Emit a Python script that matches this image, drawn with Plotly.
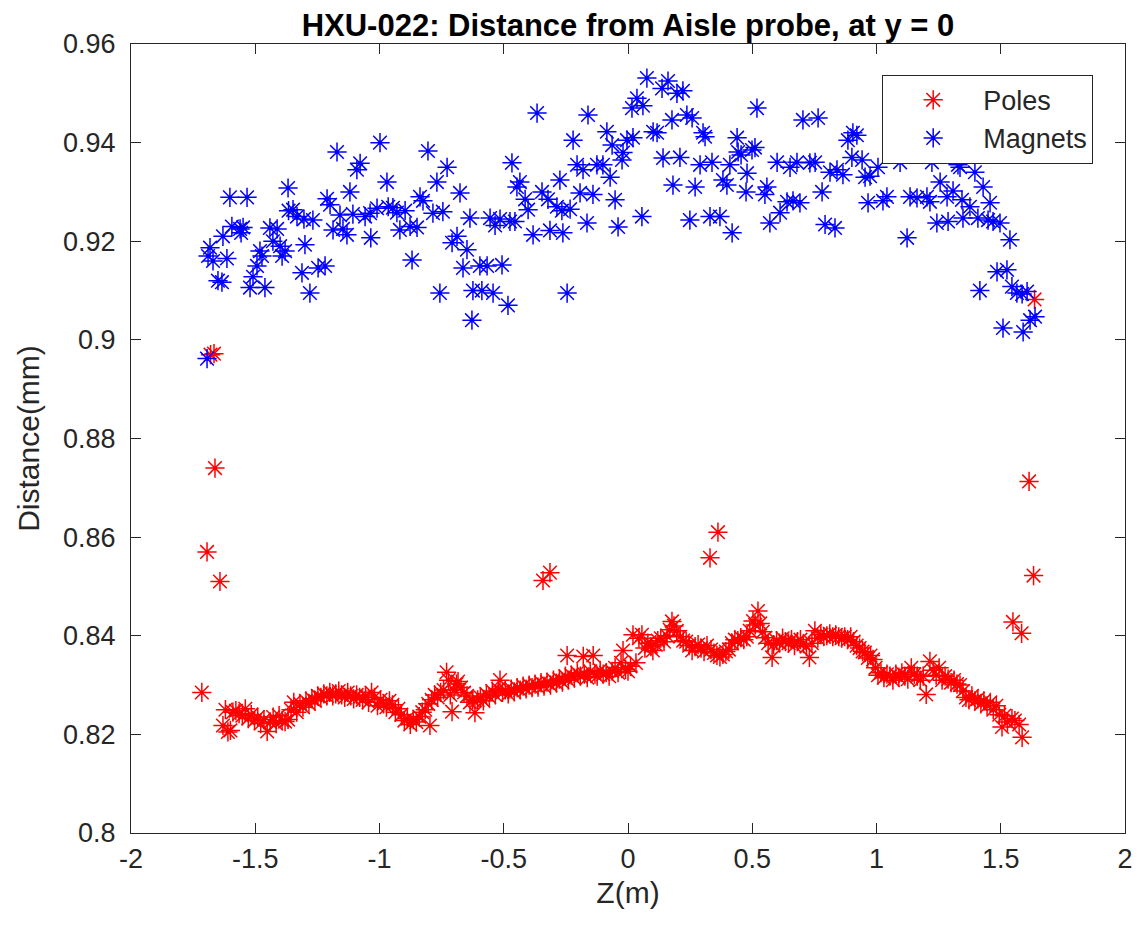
import plotly.graph_objects as go

# ---------------- Data ----------------
poles_z = [
    -1.715, -1.694, -1.680, -1.666, -1.662, -1.642,
    -1.630, -1.620, -1.610, -1.600, -1.590, -1.578, -1.565, -1.552, -1.540, -1.528,
    -1.516, -1.503, -1.490, -1.478, -1.465, -1.452, -1.440, -1.428, -1.416, -1.404,
    -1.392, -1.380, -1.368, -1.356, -1.345, -1.333, -1.320, -1.308, -1.296, -1.284,
    -1.272, -1.260, -1.248, -1.236, -1.224, -1.212, -1.200, -1.188, -1.176, -1.164,
    -1.152, -1.140, -1.128, -1.116, -1.104, -1.092, -1.080, -1.068, -1.056, -1.044,
    -1.032, -1.020, -1.008, -0.996, -0.984, -0.972, -0.960, -0.948, -0.936, -0.924,
    -0.912, -0.900, -0.888, -0.876, -0.864, -0.852, -0.840, -0.828, -0.816, -0.804,
    -0.797, -0.790, -0.778, -0.766, -0.754, -0.742, -0.730, -0.722, -0.715, -0.708,
    -0.700, -0.690, -0.684, -0.672, -0.660, -0.648, -0.636, -0.625, -0.616, -0.605,
    -0.594, -0.582, -0.570, -0.558, -0.546, -0.534, -0.522, -0.515, -0.505, -0.494,
    -0.482, -0.470, -0.458, -0.446, -0.434, -0.422, -0.410, -0.398, -0.386, -0.374,
    -0.362, -0.350, -0.342, -0.338, -0.326, -0.314, -0.312, -0.300, -0.288, -0.276,
    -0.264, -0.252, -0.245, -0.240, -0.228, -0.216, -0.204, -0.192, -0.180, -0.176,
    -0.164, -0.152, -0.140, -0.133, -0.124, -0.112, -0.100, -0.088, -0.076, -0.064,
    -0.052, -0.040, -0.028, -0.020, -0.010, 0.000, 0.010, 0.020, 0.032, 0.044,
    0.056, 0.068, 0.080, 0.092, 0.100, 0.112, 0.120, 0.132, 0.145, 0.157,
    0.168, 0.177, 0.185, 0.196, 0.210, 0.222, 0.234, 0.246, 0.258, 0.270,
    0.282, 0.294, 0.306, 0.318, 0.330, 0.334, 0.346, 0.358, 0.362, 0.370,
    0.382, 0.394, 0.406, 0.418, 0.430, 0.442, 0.454, 0.466, 0.478, 0.490,
    0.503, 0.512, 0.523, 0.532, 0.542, 0.552, 0.564, 0.580, 0.586, 0.598,
    0.610, 0.622, 0.634, 0.646, 0.658, 0.670, 0.682, 0.694, 0.706, 0.718,
    0.730, 0.740, 0.752, 0.764, 0.776, 0.788, 0.800, 0.812, 0.824, 0.836,
    0.848, 0.860, 0.872, 0.884, 0.896, 0.908, 0.920, 0.932, 0.944, 0.953,
    0.965, 0.976, 0.986, 0.996, 1.006, 1.018, 1.030, 1.042, 1.054, 1.066,
    1.078, 1.090, 1.102, 1.114, 1.126, 1.140, 1.152, 1.164, 1.176, 1.188,
    1.200, 1.215, 1.228, 1.240, 1.252, 1.264, 1.276, 1.288, 1.300, 1.312,
    1.324, 1.336, 1.348, 1.360, 1.372, 1.384, 1.396, 1.408, 1.420, 1.432,
    1.445, 1.458, 1.470, 1.482, 1.494, 1.505, 1.515, 1.527, 1.545, 1.549,
    1.557, 1.574, 1.584, 1.586, 1.614, 1.632, 1.636,
]
poles_d = [
    0.8285, 0.8570, 0.8970, 0.8972, 0.8740, 0.8510,
    0.8218, 0.8250, 0.8205, 0.8208, 0.8245, 0.8248, 0.8242, 0.8238, 0.8252, 0.8232,
    0.8240, 0.8228, 0.8235, 0.8222, 0.8230, 0.8206, 0.8225, 0.8235, 0.8222, 0.8238,
    0.8228, 0.8226, 0.8230, 0.8250, 0.8265, 0.8245, 0.8262, 0.8255, 0.8268, 0.8262,
    0.8272, 0.8268, 0.8278, 0.8275, 0.8282, 0.8278, 0.8285, 0.8278, 0.8282, 0.8288,
    0.8280, 0.8275, 0.8285, 0.8278, 0.8272, 0.8280, 0.8275, 0.8270, 0.8278, 0.8265,
    0.8285, 0.8275, 0.8258, 0.8270, 0.8262, 0.8255, 0.8268, 0.8260, 0.8245, 0.8252,
    0.8240, 0.8228, 0.8232, 0.8220, 0.8230, 0.8225, 0.8236, 0.8245, 0.8250, 0.8262,
    0.8218, 0.8270, 0.8280, 0.8275, 0.8285, 0.8290, 0.8326, 0.8310, 0.8280, 0.8246,
    0.8290, 0.8302, 0.8307, 0.8295, 0.8285, 0.8278, 0.8265, 0.8270, 0.8244, 0.8270,
    0.8275, 0.8268, 0.8282, 0.8276, 0.8288, 0.8280, 0.8292, 0.8310, 0.8285, 0.8290,
    0.8282, 0.8292, 0.8286, 0.8295, 0.8290, 0.8298, 0.8292, 0.8300, 0.8295, 0.8302,
    0.8296, 0.8305, 0.8512, 0.8298, 0.8306, 0.8528, 0.8300, 0.8310, 0.8304, 0.8312,
    0.8306, 0.8318, 0.8360, 0.8310, 0.8320, 0.8314, 0.8325, 0.8318, 0.8358, 0.8322,
    0.8315, 0.8328, 0.8360, 0.8322, 0.8318, 0.8330, 0.8322, 0.8325, 0.8318, 0.8328,
    0.8335, 0.8325, 0.8345, 0.8370, 0.8332, 0.8328, 0.8338, 0.8402, 0.8345, 0.8395,
    0.8402, 0.8375, 0.8385, 0.8378, 0.8370, 0.8382, 0.8390, 0.8395, 0.8388, 0.8400,
    0.8412, 0.8429, 0.8420, 0.8410, 0.8398, 0.8390, 0.8388, 0.8380, 0.8370, 0.8378,
    0.8382, 0.8375, 0.8368, 0.8380, 0.8558, 0.8372, 0.8365, 0.8360, 0.8610, 0.8357,
    0.8362, 0.8368, 0.8372, 0.8385, 0.8392, 0.8390, 0.8396, 0.8392, 0.8398, 0.8410,
    0.8430, 0.8422, 0.8450, 0.8425, 0.8408, 0.8396, 0.8385, 0.8356, 0.8382, 0.8390,
    0.8385, 0.8395, 0.8388, 0.8385, 0.8392, 0.8380, 0.8388, 0.8392, 0.8384, 0.8378,
    0.8356, 0.8385, 0.8410, 0.8395, 0.8402, 0.8398, 0.8400, 0.8404, 0.8398, 0.8402,
    0.8398, 0.8395, 0.8398, 0.8392, 0.8398, 0.8388, 0.8380, 0.8375, 0.8368, 0.8366,
    0.8355, 0.8360, 0.8352, 0.8335, 0.8320, 0.8325, 0.8315, 0.8322, 0.8318, 0.8310,
    0.8322, 0.8316, 0.8325, 0.8318, 0.8312, 0.8335, 0.8322, 0.8318, 0.8310, 0.8318,
    0.8281, 0.8348, 0.8330, 0.8320, 0.8335, 0.8310, 0.8318, 0.8312, 0.8305, 0.8310,
    0.8302, 0.8300, 0.8288, 0.8275, 0.8270, 0.8278, 0.8268, 0.8272, 0.8262, 0.8268,
    0.8258, 0.8265, 0.8250, 0.8258, 0.8240, 0.8215, 0.8238, 0.8225, 0.8232, 0.8428,
    0.8228, 0.8220, 0.8405, 0.8194, 0.8713, 0.8522, 0.9082,
]

magnets_z = [
    -1.694, -1.690, -1.682, -1.670, -1.650, -1.634, -1.630, -1.614, -1.602, -1.594,
    -1.561, -1.557, -1.549, -1.533, -1.521, -1.509, -1.493, -1.481, -1.473, -1.461,
    -1.441, -1.429, -1.412, -1.400, -1.392, -1.380, -1.368, -1.366, -1.348, -1.332,
    -1.312, -1.304, -1.300, -1.280, -1.268, -1.247, -1.219, -1.211, -1.199, -1.187,
    -1.171, -1.159, -1.147, -1.131, -1.119, -1.107, -1.091, -1.078, -1.058, -1.038,
    -1.035, -1.010, -0.998, -0.970, -0.965, -0.946, -0.930, -0.918, -0.897, -0.877,
    -0.869, -0.849, -0.837, -0.825, -0.805, -0.785, -0.769, -0.757, -0.745, -0.728,
    -0.708, -0.688, -0.676, -0.664, -0.648, -0.636, -0.628, -0.624, -0.596, -0.588,
    -0.567, -0.555, -0.543, -0.535, -0.515, -0.507, -0.483, -0.475, -0.467, -0.455,
    -0.447, -0.435, -0.414, -0.402, -0.382, -0.366, -0.346, -0.322, -0.314, -0.286,
    -0.274, -0.266, -0.262, -0.245, -0.233, -0.221, -0.205, -0.193, -0.181, -0.165,
    -0.161, -0.141, -0.125, -0.101, -0.085, -0.072, -0.064, -0.052, -0.040, -0.024,
    -0.020, -0.004, 0.016, 0.020, 0.036, 0.056, 0.060, 0.076, 0.101, 0.117,
    0.137, 0.141, 0.161, 0.177, 0.181, 0.197, 0.209, 0.221, 0.237, 0.249,
    0.258, 0.270, 0.290, 0.302, 0.310, 0.330, 0.338, 0.370, 0.382, 0.398,
    0.410, 0.419, 0.439, 0.443, 0.455, 0.475, 0.479, 0.499, 0.511, 0.519,
    0.551, 0.559, 0.571, 0.600, 0.612, 0.640, 0.652, 0.664, 0.680, 0.692,
    0.704, 0.732, 0.753, 0.765, 0.781, 0.793, 0.813, 0.833, 0.841, 0.865,
    0.885, 0.901, 0.905, 0.921, 0.942, 0.954, 0.966, 0.974, 1.006, 1.026,
    1.042, 1.095, 1.123, 1.135, 1.163, 1.203, 1.215, 1.223, 1.243, 1.256,
    1.284, 1.288, 1.308, 1.328, 1.336, 1.344, 1.348, 1.376, 1.396, 1.408,
    1.416, 1.429, 1.449, 1.457, 1.469, 1.485, 1.497, 1.509, 1.525, 1.537,
    1.545, 1.565, 1.586, 1.590, 1.606, 1.618, 1.638,
]
magnets_d = [
    0.8962, 0.9170, 0.9187, 0.9160, 0.9120, 0.9117, 0.9210, 0.9165, 0.9289, 0.9230,
    0.9225, 0.9217, 0.9228, 0.9289, 0.9106, 0.9128, 0.9150, 0.9180, 0.9170, 0.9106,
    0.9227, 0.9200, 0.9225, 0.9190, 0.9170, 0.9180, 0.9308, 0.9262, 0.9264, 0.9250,
    0.9136, 0.9245, 0.9193, 0.9095, 0.9243, 0.9146, 0.9150, 0.9286, 0.9274, 0.9223,
    0.9381, 0.9253, 0.9225, 0.9213, 0.9300, 0.9255, 0.9345, 0.9358, 0.9250, 0.9257,
    0.9207, 0.9267, 0.9400, 0.9320, 0.9270, 0.9268, 0.9258, 0.9223, 0.9262, 0.9230,
    0.9162, 0.9228, 0.9290, 0.9282, 0.9383, 0.9257, 0.9320, 0.9095, 0.9260, 0.9350,
    0.9197, 0.9210, 0.9298, 0.9146, 0.9183, 0.9247, 0.9040, 0.9100, 0.9150, 0.9100,
    0.9150, 0.9247, 0.9095, 0.9232, 0.9245, 0.9152, 0.9070, 0.9240, 0.9359, 0.9240,
    0.9310, 0.9320, 0.9285, 0.9264, 0.9213, 0.9460, 0.9300, 0.9285, 0.9222, 0.9270,
    0.9324, 0.9262, 0.9217, 0.9095, 0.9265, 0.9405, 0.9355, 0.9298, 0.9345, 0.9237,
    0.9456, 0.9295, 0.9355, 0.9355, 0.9422, 0.9330, 0.9395, 0.9284, 0.9229, 0.9365,
    0.9380, 0.9405, 0.9470, 0.9410, 0.9490, 0.9250, 0.9475, 0.9531, 0.9422, 0.9420,
    0.9510, 0.9369, 0.9525, 0.9446, 0.9314, 0.9500, 0.9370, 0.9505, 0.9456, 0.9243,
    0.9450, 0.9310, 0.9355, 0.9420, 0.9412, 0.9250, 0.9360, 0.9250, 0.9324, 0.9314,
    0.9355, 0.9217, 0.9410, 0.9381, 0.9375, 0.9300, 0.9338, 0.9385, 0.9390, 0.9470,
    0.9295, 0.9310, 0.9237, 0.9360, 0.9258, 0.9280, 0.9350, 0.9282, 0.9360, 0.9278,
    0.9446, 0.9359, 0.9360, 0.9450, 0.9300, 0.9234, 0.9340, 0.9227, 0.9345, 0.9335,
    0.9405, 0.9370, 0.9420, 0.9415, 0.9365, 0.9330, 0.9278, 0.9332, 0.9350, 0.9282,
    0.9290, 0.9360, 0.9207, 0.9290, 0.9288, 0.9290, 0.9280, 0.9360, 0.9237, 0.9320,
    0.9290, 0.9240, 0.9302, 0.9355, 0.9350, 0.9284, 0.9247, 0.9270, 0.9340, 0.9247,
    0.9100, 0.9310, 0.9243, 0.9278, 0.9240, 0.9138, 0.9237, 0.9024, 0.9142, 0.9203,
    0.9108, 0.9095, 0.9093, 0.9016, 0.9098, 0.9040, 0.9047,
]

x_ticks = [-2, -1.5, -1, -0.5, 0, 0.5, 1, 1.5, 2]
x_tick_text = ["-2", "-1.5", "-1", "-0.5", "0", "0.5", "1", "1.5", "2"]
y_ticks = [0.80, 0.82, 0.84, 0.86, 0.88, 0.90, 0.92, 0.94, 0.96]
y_tick_text = ["0.8", "0.82", "0.84", "0.86", "0.88", "0.9", "0.92", "0.94", "0.96"]

FONT = "Liberation Sans, Arial, sans-serif"
AX = "#262626"

fig = go.Figure()
fig.add_trace(go.Scatter(
    x=poles_z, y=poles_d, mode="markers", name="Poles",
    marker=dict(symbol="asterisk-open", size=16, color="red",
                line=dict(color="red", width=1.5)),
))
fig.add_trace(go.Scatter(
    x=magnets_z, y=magnets_d, mode="markers", name="Magnets",
    marker=dict(symbol="asterisk-open", size=16, color="blue",
                line=dict(color="blue", width=1.5)),
))

axis_common = dict(
    showgrid=False, zeroline=False, showline=True, linecolor=AX, linewidth=1,
    mirror="ticks", ticks="inside", ticklen=10, tickwidth=1, tickcolor=AX,
    tickfont=dict(family=FONT, size=27, color=AX), automargin=False,
)
fig.update_xaxes(range=[-2, 2], tickvals=x_ticks, ticktext=x_tick_text,
                 ticklabelstandoff=2,
                 title=dict(text="Z(m)", font=dict(family=FONT, size=30, color=AX), standoff=8),
                 **axis_common)
fig.update_yaxes(range=[0.80, 0.96], tickvals=y_ticks, ticktext=y_tick_text,
                 ticklabelstandoff=9,
                 title=dict(text="Distance(mm)", font=dict(family=FONT, size=30, color=AX), standoff=14),
                 **axis_common)

# page body has an 8px default margin, so margins are offset to keep the plot area in place
fig.update_layout(
    width=1141, height=934,
    margin=dict(l=123, r=24, t=36, b=109),
    paper_bgcolor="white", plot_bgcolor="white",
    title=dict(text="<b>HXU-022: Distance from Aisle probe, at y = 0</b>",
               font=dict(family=FONT, size=31, color="black"),
               x=0.5, xref="paper", xanchor="center",
               y=0.993, yref="container", yanchor="top"),
    legend=dict(x=0.968, y=0.961, xanchor="right", yanchor="top",
                bgcolor="white", bordercolor=AX, borderwidth=1,
                font=dict(family=FONT, size=27, color=AX),
                itemwidth=90, itemsizing="trace"),
    showlegend=True,
)

fig.write_html("out.html")
